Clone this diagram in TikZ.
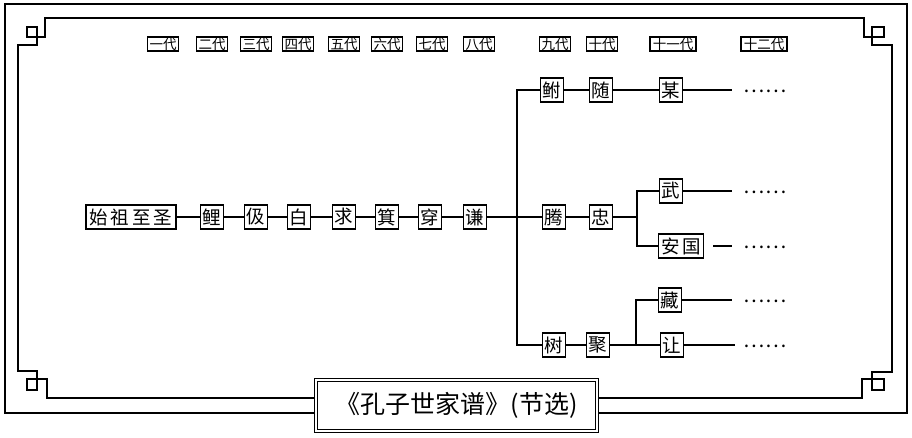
\documentclass[tikz,border=0pt]{standalone}
\usepackage{fontspec}
\setmainfont{Noto Sans CJK SC}
\begin{document}
\begin{tikzpicture}[x=1pt,y=-1pt,
  frame/.style={line width=2.4pt, line join=miter},
  conn/.style={line width=2pt},
  person/.style={draw, line width=1.2pt, font=\fontsize{18.5}{18.5}\selectfont, inner sep=0pt, minimum width=23pt, minimum height=24pt},
  gen/.style={draw, line width=1.1pt, font=\fontsize{13.5}{14}\selectfont, inner sep=0pt, minimum width=31pt, minimum height=14pt},
  dotsnode/.style={font=\fontsize{20}{20}\selectfont, inner sep=0pt}]
\useasboundingbox (0,0) rectangle (912,437);
% borders
\draw[frame] (5,4) rectangle (907,413);
\draw[frame] (45,18) -- (864,18) -- (864,37) -- (884,37) -- (884,27) -- (872,27) -- (872,45) -- (892,45)
  -- (892,372) -- (872,372) -- (872,390) -- (884,390) -- (884,379) -- (862,379) -- (862,398)
  -- (47,398) -- (47,379) -- (27,379) -- (27,390) -- (37,390) -- (37,371) -- (18,371)
  -- (18,45) -- (37,45) -- (37,27) -- (27,27) -- (27,37) -- (45,37) -- cycle;
% title
\node[draw, double, double distance=2pt, line width=1pt, fill=white, minimum width=281pt, minimum height=51pt, inner sep=0pt,
  font=\fontsize{25}{26}\selectfont] (title) at (456.5,405.5) {《孔子世家谱》(节选)};
% generation labels
\node[gen] (g1) at (163,44) {一代};
\node[gen] (g2) at (212,44) {二代};
\node[gen] (g3) at (256,44) {三代};
\node[gen] (g4) at (298,44) {四代};
\node[gen] (g5) at (344,44) {五代};
\node[gen] (g6) at (387,44) {六代};
\node[gen] (g7) at (432,44) {七代};
\node[gen] (g8) at (479,44) {八代};
\node[gen] (g9) at (555,44) {九代};
\node[gen] (g10) at (602,44) {十代};
\node[gen, minimum width=46pt] (g11) at (673,44) {十一代};
\node[gen, minimum width=46pt] (g12) at (764,44) {十二代};
% persons
\node[person, minimum width=90pt] (p0) at (131,217) {始\hspace{3pt}祖\hspace{3pt}至\hspace{3pt}圣};
\node[person] (p1) at (212,217) {鲤};
\node[person] (p2) at (256,217) {伋};
\node[person] (p3) at (299,217) {白};
\node[person] (p4) at (344,217) {求};
\node[person] (p5) at (387,217) {箕};
\node[person] (p6) at (430,217) {穿};
\node[person] (p7) at (475,217) {谦};
\node[person] (fu) at (552,90) {鲋};
\node[person] (sui) at (601,90) {随};
\node[person] (mou) at (671,90) {某};
\node[person] (teng) at (554,217) {腾};
\node[person] (zhong) at (601,217) {忠};
\node[person] (wu) at (671,191) {武};
\node[person, minimum width=45pt] (anguo) at (681,246) {安\hspace{3pt}国};
\node[person] (shu) at (554,345) {树};
\node[person] (ju) at (598,345) {聚};
\node[person] (zang) at (670,300) {藏};
\node[person] (rang) at (672,345) {让};
% dots
\node[dotsnode] (d1) at (765,91.5) {……};
\node[dotsnode] (d2) at (765,192.5) {……};
\node[dotsnode] (d3) at (765,247.5) {……};
\node[dotsnode] (d4) at (765,301.5) {……};
\node[dotsnode] (d5) at (765,346.5) {……};
% coordinates
\coordinate (ja) at (517,90);
\coordinate (jb) at (517,345);
\coordinate (kb) at (637,191);
\coordinate (km) at (637,217);
\coordinate (kc) at (637,246);
\coordinate (ma) at (636,300);
\coordinate (mb) at (636,345);
\coordinate (e1) at (732,90);
\coordinate (e2) at (732,191);
\coordinate (e3a) at (713,246);
\coordinate (e3b) at (732,246);
\coordinate (e4) at (732,300);
\coordinate (e5) at (735,345);
% connectors
\draw[conn] (p0) -- (p1);
\draw[conn] (p1) -- (p2);
\draw[conn] (p2) -- (p3);
\draw[conn] (p3) -- (p4);
\draw[conn] (p4) -- (p5);
\draw[conn] (p5) -- (p6);
\draw[conn] (p6) -- (p7);
\draw[conn] (p7) -- (teng);
\draw[conn] (fu) -- (ja) -- (jb) -- (shu);
\draw[conn] (fu) -- (sui);
\draw[conn] (sui) -- (mou);
\draw[conn] (mou) -- (e1);
\draw[conn] (teng) -- (zhong);
\draw[conn] (zhong) -- (km);
\draw[conn] (wu) -- (kb) -- (kc) -- (anguo);
\draw[conn] (wu) -- (e2);
\draw[conn] (e3a) -- (e3b);
\draw[conn] (shu) -- (ju);
\draw[conn] (ju) -- (rang);
\draw[conn] (zang) -- (ma) -- (mb);
\draw[conn] (zang) -- (e4);
\draw[conn] (rang) -- (e5);
\end{tikzpicture}
\end{document}
